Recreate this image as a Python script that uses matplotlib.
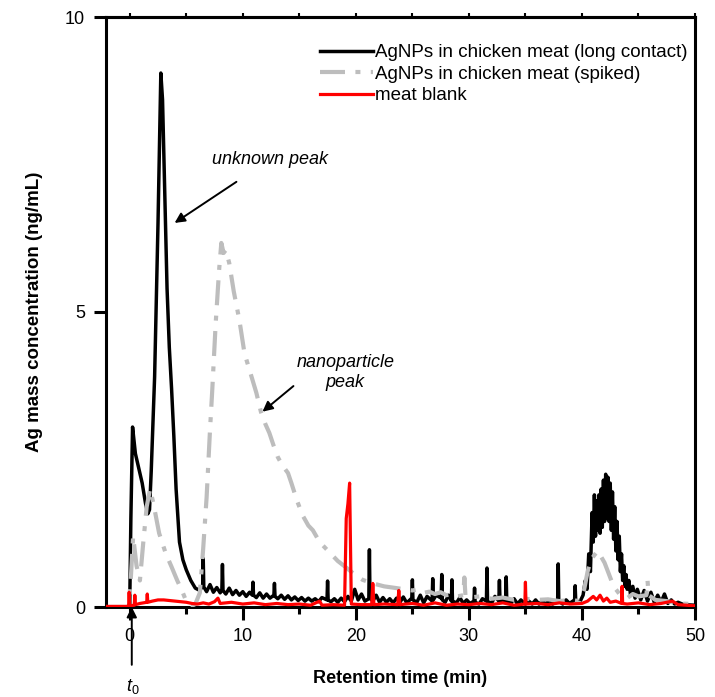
import matplotlib
matplotlib.use("Agg")
import matplotlib.pyplot as plt

plt.rcParams['font.family'] = ['Liberation Sans', 'DejaVu Sans']
plt.rcParams['mathtext.fontset'] = 'custom'
plt.rcParams['mathtext.rm'] = 'Liberation Sans'
plt.rcParams['mathtext.it'] = 'Liberation Sans:italic'

# ---- data ----
series_labels = ["AgNPs in chicken meat (long contact)",
                 "AgNPs in chicken meat (spiked)",
                 "meat blank"]

long_t = [-2.1, -0.1, 0.0, 0.1, 0.25, 0.5, 0.8, 1.1, 1.4, 1.6, 1.75, 1.9, 2.2, 2.5, 2.75,
          2.9, 3.1, 3.3, 3.5, 3.7, 3.9, 4.1, 4.4, 4.7, 5.0, 5.4, 5.8,
          6.2, 6.45, 6.5, 6.55, 6.8, 7.1, 7.4, 7.7, 8.0, 8.15, 8.2, 8.25, 8.5, 8.8, 9.1, 9.4,
          9.7, 10.0, 10.3, 10.6, 10.85, 10.9, 10.95, 11.2, 11.5, 11.8, 12.1, 12.4, 12.75, 12.8,
          12.85, 13.1, 13.4, 13.7, 14.0, 14.3, 14.6, 14.9, 15.2, 15.5, 15.8, 16.1, 16.4, 16.7,
          17.0, 17.45, 17.5, 17.55, 17.8, 18.1, 18.4, 18.7, 19.0, 19.3, 19.6, 19.9, 20.2, 20.5,
          20.8, 21.15, 21.2, 21.25, 21.5, 21.8, 22.1, 22.4, 22.7, 23.0, 23.3, 23.6, 23.9, 24.2,
          24.5, 24.95, 25.0, 25.05, 25.4, 25.7, 26.0, 26.3, 26.75, 26.8, 26.85, 27.1, 27.55,
          27.6, 27.65, 27.9, 28.2, 28.45, 28.5, 28.55, 28.9, 29.2, 29.5, 29.8, 30.1, 30.45,
          30.5, 30.55, 30.9, 31.2, 31.55, 31.6, 31.65, 32.0, 32.3, 32.65, 32.7, 32.75, 33.0,
          33.25, 33.3, 33.35, 33.7, 34.0, 34.3, 34.6, 35.0, 35.3, 35.6, 35.9, 36.2, 36.5, 36.8,
          37.1, 37.4, 37.85, 37.9, 37.95, 38.3, 38.6, 38.9, 39.35, 39.4, 39.45, 39.8, 40.1,
          40.3, 40.45, 40.6, 40.75, 40.9, 41.0, 41.1, 41.2, 41.3, 41.4, 41.5, 41.6, 41.7, 41.8,
          41.9, 42.0, 42.1, 42.2, 42.3, 42.4, 42.5, 42.6, 42.7, 42.8, 42.9, 43.0, 43.1, 43.2,
          43.3, 43.4, 43.5, 43.6, 43.7, 43.8, 43.9, 44.0, 44.15, 44.3, 44.5, 44.7,
          44.9, 45.2, 45.5, 45.8, 46.1, 46.4, 46.7, 47.0, 47.3, 47.6, 47.9, 48.2, 48.5, 49.0, 50.0]
long_v = [0.0, 0.0, 0.05, 1.5, 3.05, 2.6, 2.35, 2.1, 1.75, 1.58, 1.65, 2.3, 3.9, 6.5, 9.05,
          8.6, 7.0, 5.4, 4.4, 3.7, 2.9, 2.0, 1.1, 0.8, 0.63, 0.45, 0.32,
          0.28, 0.36, 0.82, 0.34, 0.26, 0.38, 0.25, 0.33, 0.24, 0.30, 0.72, 0.28, 0.22, 0.32, 0.21, 0.28,
          0.20, 0.26, 0.18, 0.25, 0.20, 0.42, 0.20, 0.16, 0.24, 0.15, 0.22, 0.15, 0.20, 0.40,
          0.18, 0.14, 0.20, 0.13, 0.19, 0.12, 0.17, 0.11, 0.16, 0.10, 0.15, 0.10, 0.14, 0.09,
          0.16, 0.12, 0.44, 0.12, 0.09, 0.14, 0.08, 0.15, 0.09, 0.18, 0.10, 0.30, 0.12, 0.22,
          0.10, 0.14, 0.97, 0.15, 0.10, 0.20, 0.08, 0.16, 0.08, 0.14, 0.07, 0.15, 0.08, 0.17,
          0.07, 0.15, 0.46, 0.12, 0.08, 0.20, 0.07, 0.18, 0.10, 0.48, 0.12, 0.20, 0.15,
          0.55, 0.12, 0.08, 0.20, 0.10, 0.46, 0.10, 0.07, 0.16, 0.06, 0.12, 0.06, 0.10,
          0.32, 0.08, 0.05, 0.14, 0.10, 0.66, 0.10, 0.06, 0.18, 0.10, 0.45, 0.10, 0.12,
          0.10, 0.51, 0.10, 0.06, 0.14, 0.05, 0.12, 0.05, 0.10, 0.05, 0.12, 0.05, 0.10, 0.05,
          0.12, 0.05, 0.10, 0.73, 0.10, 0.05, 0.12, 0.06, 0.12, 0.36, 0.10, 0.08, 0.20,
          0.45, 0.30, 0.90, 0.60, 1.60, 1.10, 1.90, 1.20, 1.80, 1.30, 1.90, 1.25, 2.00, 1.35,
          2.15, 1.45, 2.25, 1.50, 2.20, 1.45, 2.10, 1.30, 1.95, 1.15, 1.70, 0.95, 1.45, 0.80,
          1.20, 0.60, 0.90, 0.45, 0.70, 0.35, 0.55, 0.30, 0.45, 0.20, 0.35, 0.15,
          0.30, 0.12, 0.28, 0.10, 0.25, 0.08, 0.20, 0.08, 0.22, 0.06, 0.12, 0.05, 0.08, 0.04, 0.03]

spiked_t = [-2.1, -0.1, 0.1, 0.3, 0.6, 0.9, 1.2, 1.5, 1.8, 2.1, 2.6, 3.2, 3.7, 4.2, 4.7, 5.1,
            5.5, 5.8, 6.2, 6.5, 6.8, 7.1, 7.3, 7.6, 7.9, 8.1, 8.3, 8.5, 8.8, 9.2, 9.7, 10.15,
            10.7, 11.2, 11.6, 12.0, 12.35, 12.7, 13.1, 13.5, 14.0, 14.3, 14.8, 15.3, 15.8, 16.2,
            16.8, 17.7, 18.4, 19.2, 19.9, 20.6, 21.5, 22.5, 23.6, 25.0, 25.5, 26.0, 26.5, 27.0,
            27.5, 28.0, 28.5, 29.0, 29.5, 29.6, 29.7, 30.0, 31.0, 32.0, 33.0, 34.0, 35.0, 36.0,
            37.0, 38.0, 39.0, 39.8, 40.2, 40.5, 40.8, 41.1, 41.4, 41.7, 42.0, 42.3, 42.6, 43.0,
            43.4, 44.0, 44.5, 45.0, 45.7, 45.8, 45.9, 46.5, 47.5, 48.5, 50.0]
spiked_v = [0.0, 0.0, 0.5, 1.2, 0.7, 0.45, 1.1, 1.7, 2.0, 1.75, 1.25, 0.9, 0.68, 0.45, 0.24, 0.05,
            0.02, 0.05, 0.24, 1.0, 1.86, 3.0, 3.68, 4.8, 5.7, 6.17, 6.0, 6.05, 5.83, 5.35, 4.86, 4.3,
            3.95, 3.63, 3.31, 3.1, 2.95, 2.75, 2.54, 2.4, 2.27, 2.1, 1.8, 1.55, 1.38, 1.3,
            1.1, 0.92, 0.78, 0.66, 0.55, 0.46, 0.4, 0.35, 0.32, 0.28, 0.3, 0.24, 0.26, 0.22,
            0.25, 0.2, 0.22, 0.18, 0.2, 0.5, 0.18, 0.16, 0.18, 0.14, 0.16, 0.12, 0.14, 0.12,
            0.13, 0.1, 0.12, 0.1, 0.3, 0.6, 0.8, 0.88, 0.95, 0.85, 0.75, 0.6, 0.45, 0.3,
            0.2, 0.15, 0.22, 0.18, 0.2, 0.45, 0.2, 0.12, 0.1, 0.06, 0.05]

blank_t = [-2.1, -0.1, -0.05, 0.0, 0.4, 0.45, 0.5, 0.9, 1.5, 1.55, 1.6, 2.0, 2.5, 3.0, 3.5,
           4.0, 4.5, 5.0, 5.5, 6.0, 6.5, 7.0, 7.5, 7.8, 8.0, 9.0, 10.0, 11.0, 12.0, 13.0, 14.0,
           15.0, 16.0, 16.8, 17.0, 18.0, 19.0, 19.15, 19.3, 19.45, 19.6, 20.5, 21.4, 21.5, 21.6,
           22.5, 23.7, 23.8, 23.9, 25.0, 26.0, 27.0, 28.0, 29.0, 30.0, 31.0, 32.0, 33.0, 34.0,
           34.95, 35.0, 35.05, 36.0, 37.0, 38.0, 39.0, 40.0, 40.5, 41.0, 41.3, 41.6, 41.9, 42.2,
           42.5, 43.0, 43.5, 43.55, 43.6, 44.0, 45.0, 46.0, 47.0, 48.0, 48.5, 50.0]
blank_v = [0.01, 0.01, 0.25, 0.02, 0.03, 0.2, 0.04, 0.06, 0.08, 0.22, 0.08, 0.1, 0.12, 0.12, 0.11,
           0.1, 0.09, 0.08, 0.06, 0.05, 0.07, 0.05, 0.09, 0.15, 0.06, 0.08, 0.05, 0.07, 0.04, 0.06, 0.04,
           0.05, 0.03, 0.1, 0.03, 0.04, 0.03, 1.5, 1.75, 2.1, 0.05, 0.04, 0.04, 0.4, 0.04,
           0.05, 0.04, 0.28, 0.04, 0.06, 0.03, 0.07, 0.03, 0.05, 0.04, 0.06, 0.04, 0.07, 0.03,
           0.05, 0.42, 0.05, 0.06, 0.04, 0.07, 0.05, 0.06, 0.1, 0.18, 0.12, 0.2, 0.1, 0.15,
           0.08, 0.1, 0.06, 0.35, 0.06, 0.05, 0.07, 0.04, 0.06, 0.1, 0.04, 0.02]

x_ticks = [0, 10, 20, 30, 40, 50]
x_minor = [5, 15, 25, 35, 45]
y_ticks = [0, 5, 10]

# ---- figure ----
fig = plt.figure(figsize=(7.15, 6.97), dpi=100)
ax = fig.add_axes([106 / 715, 1 - 607 / 697, (695 - 106) / 715, (607 - 17) / 697])

ax.plot(long_t, long_v, color='black', lw=2.5, zorder=3, label=series_labels[0])
ax.plot(spiked_t, spiked_v, color='#bdbdbd', lw=3.0, linestyle=(0, (6, 2.5, 1.2, 2.5)),
        zorder=4, label=series_labels[1])
ax.plot(blank_t, blank_v, color='#ff0000', lw=2.3, zorder=5, label=series_labels[2])

ax.set_xlim(-2.1, 50)
ax.set_ylim(0, 10)
ax.set_xticks(x_ticks)
ax.set_xticks(x_minor, minor=True)
ax.set_yticks(y_ticks)

for s in ax.spines.values():
    s.set_linewidth(2.2)

ax.tick_params(axis='both', which='major', direction='out', length=9, width=2.2,
               labelsize=13, pad=6)
ax.tick_params(axis='x', which='minor', direction='out', length=5, width=2.2)

top = ax.secondary_xaxis('top')
top.set_xticks(x_ticks + x_minor)
top.tick_params(direction='out', length=3, width=1.5, labeltop=False)
top.spines['top'].set_linewidth(2.2)

ax.set_xlabel("Retention time (min)", fontsize=13, fontweight='bold', labelpad=18)
ax.set_ylabel("Ag mass concentration (ng/mL)", fontsize=13.5, fontweight='bold', labelpad=16)

leg = ax.legend(loc='upper left', bbox_to_anchor=(320 / 715, 1 - 44 / 697),
                bbox_transform=fig.transFigure, frameon=False, fontsize=13.5,
                handlelength=2.85, handletextpad=0.1, labelspacing=0.24,
                borderpad=0, borderaxespad=0)

ax.annotate("unknown peak", xy=(3.97, 6.51), xytext=(7.24, 7.58),
            fontsize=13, style='italic', ha='left', va='center',
            arrowprops=dict(arrowstyle='-|>', color='black', lw=1.4,
                            shrinkA=14, shrinkB=0, mutation_scale=15))
ax.annotate("nanoparticle\npeak", xy=(11.74, 3.31), xytext=(19.06, 3.97),
            fontsize=13, style='italic', ha='center', va='center',
            arrowprops=dict(arrowstyle='-|>', color='black', lw=1.4,
                            shrinkA=0, shrinkB=0, mutation_scale=15,
                            relpos=(0.0, 0.2)))
ax.annotate("", xy=(0.18, 0.0), xytext=(0.18, -0.98), annotation_clip=False,
            arrowprops=dict(arrowstyle='-|>', color='black', lw=1.4,
                            shrinkA=0, shrinkB=0, mutation_scale=15))
ax.text(0.25, -1.34, r"$t_0$", fontsize=13, ha='center', va='center', clip_on=False)

fig.savefig("out.png", dpi=100)
